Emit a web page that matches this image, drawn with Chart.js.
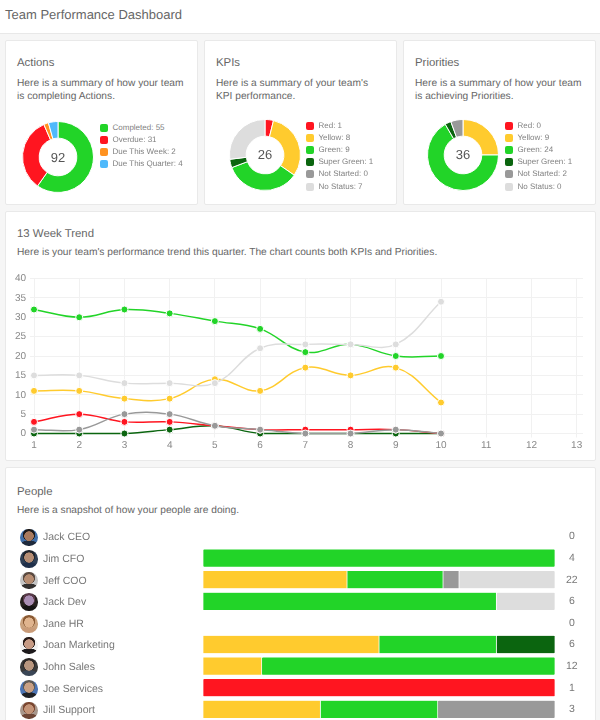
<!DOCTYPE html>
<html>
<head>
<meta charset="utf-8">
<title>Team Performance Dashboard</title>
<script src="https://cdn.jsdelivr.net/npm/chart.js@4/dist/chart.umd.min.js"></script>
<style>
  html, body { margin: 0; padding: 0; width: 600px; height: 720px; overflow: hidden; background: #f6f6f6; }
  body { position: relative; font-family: "Liberation Sans", Arial, sans-serif; color: #666; text-rendering: geometricPrecision; }
  .header { position: absolute; left: 0; top: 0; width: 600px; height: 33px; background: #fff; border-bottom: 1px solid #e8e8e8; }
  .header span { position: absolute; left: 5px; top: 6px; font-size: 13px; line-height: 17px; white-space: nowrap; }
  .card { position: absolute; background: #fff; border: 1px solid #e9e9e9; border-radius: 2px; box-sizing: border-box; }
  .txt { position: absolute; white-space: nowrap; }
  .h { font-size: 11.4px; line-height: 15px; }
  .p { font-size: 10.2px; line-height: 13.5px; color: #666; }
  canvas { position: absolute; display: block; }
  .total { position: absolute; font-size: 13px; line-height: 16px; width: 40px; text-align: center; color: #555; }
  .leg { position: absolute; font-size: 8px; line-height: 10px; color: #808080; white-space: nowrap; padding-left: 12.5px; }
  .leg i { position: absolute; left: 0; top: 1px; width: 8px; height: 8px; border-radius: 2px; }
  .avatar { position: absolute; left: 20px; width: 17.5px; height: 17.5px; border-radius: 50%; }
</style>
</head>
<body>
<div class="header"><span>Team Performance Dashboard</span></div>

<div class="card" style="left:5px;top:40px;width:193px;height:165px"></div>
<div class="card" style="left:204px;top:40px;width:193px;height:165px"></div>
<div class="card" style="left:403px;top:40px;width:193px;height:165px"></div>
<div class="card" style="left:5px;top:211px;width:591px;height:250px"></div>
<div class="card" style="left:5px;top:467px;width:591px;height:270px"></div>

<div class="txt h" style="left:17px;top:55.5px">Actions</div>
<div class="txt p" style="left:17px;top:76.5px">Here is a summary of how your team<br>is completing Actions.</div>
<div class="txt h" style="left:216px;top:55.5px">KPIs</div>
<div class="txt p" style="left:216px;top:76.5px">Here is a summary of your team's<br>KPI performance.</div>
<div class="txt h" style="left:415px;top:55.5px">Priorities</div>
<div class="txt p" style="left:415px;top:76.5px">Here is a summary of how your team<br>is achieving Priorities.</div>
<div class="txt h" style="left:17px;top:226.5px">13 Week Trend</div>
<div class="txt p" style="left:17px;top:246px">Here is your team's performance trend this quarter. The chart counts both KPIs and Priorities.</div>
<div class="txt h" style="left:17px;top:485px">People</div>
<div class="txt p" style="left:17px;top:503.5px">Here is a snapshot of how your people are doing.</div>

<canvas id="actions" width="72" height="72" style="left:22px;top:121px"></canvas>
<canvas id="kpis" width="72" height="72" style="left:229px;top:119px"></canvas>
<canvas id="priorities" width="72" height="72" style="left:427px;top:119px"></canvas>
<div class="total" style="left:38px;top:149.5px">92</div>
<div class="total" style="left:245px;top:147px">26</div>
<div class="total" style="left:443px;top:147px">36</div>

<canvas id="trend" width="600" height="185" style="left:0;top:270px"></canvas>
<canvas id="people" width="600" height="210" style="left:0;top:520px"></canvas>

<script>
const GREEN = "#22d428", RED = "#ff1520", YELLOW = "#ffcb2e", SUPER = "#0b650f",
      GREY = "#999999", LIGHT = "#dddddd", ORANGE = "#ff9220", BLUE = "#4fb9fb";

// donuts
const actionLabels = ["Completed", "Overdue", "Due This Week", "Due This Quarter"];
const actionValues = [55, 31, 2, 4];
const statusLabels = ["Red", "Yellow", "Green", "Super Green", "Not Started", "No Status"];
const kpiValues = [1, 8, 9, 1, 0, 7];
const priorityValues = [0, 9, 24, 1, 2, 0];

// trend
const weeks = [1, 2, 3, 4, 5, 6, 7, 8, 9, 10];
const trendNoStatus = [15, 15, 13, 13, 13, 22, 23, 23, 23, 34];
const trendGreen = [32, 30, 32, 31, 29, 27, 21, 23, 20, 20];
const trendYellow = [11, 11, 9, 9, 14, 11, 17, 15, 17, 8];
const trendRed = [3, 5, 3, 3, 2, 1, 1, 1, 1, 0];
const trendSuper = [0, 0, 0, 1, 2, 0, 0, 0, 0, 0];
const trendGrey = [1, 1, 5, 5, 2, 1, 0, 0, 1, 0];

// people
const people = ["Jack CEO", "Jim CFO", "Jeff COO", "Jack Dev", "Jane HR", "Joan Marketing", "John Sales", "Joe Services", "Jill Support"];
const peopleRed = [0, 0, 0, 0, 0, 0, 0, 1, 0];
const peopleYellow = [0, 0, 9, 0, 0, 3, 2, 0, 1];
const peopleGreen = [0, 4, 6, 5, 0, 2, 10, 0, 1];
const peopleSuper = [0, 0, 0, 0, 0, 1, 0, 0, 0];
const peopleGrey = [0, 0, 1, 0, 0, 0, 0, 0, 1];
const peopleLight = [0, 0, 6, 1, 0, 0, 0, 0, 0];
const peopleTotals = [0, 4, 22, 6, 0, 6, 12, 1, 3];

const statusColors = [RED, YELLOW, GREEN, SUPER, GREY, LIGHT];

// same unhinted text in the canvases as in the page
Chart.register({
  id: "textRendering",
  beforeDraw: function(chart) { chart.ctx.textRendering = "geometricPrecision"; }
});

// fixed axis width, and no extra room above and below for the tick labels
function fixWidth(width) {
  return function(scale) {
    scale.width = width;
    scale.paddingTop = 0;
    scale.paddingBottom = 0;
  };
}

function donut(id, values, colors) {
  new Chart(document.getElementById(id), {
    type: "doughnut",
    data: { labels: [], datasets: [{ data: values, backgroundColor: colors, borderColor: "#fff", borderWidth: 1 }] },
    options: {
      responsive: false,
      animation: false,
      cutout: "53%",
      plugins: { legend: { display: false }, tooltip: { enabled: false } }
    }
  });
}

function legend(left, top, labels, values, colors) {
  labels.forEach(function(label, i) {
    const row = document.createElement("div");
    row.className = "leg";
    row.style.left = left + "px";
    row.style.top = (top + i * 12.2) + "px";
    row.innerHTML = '<i style="background:' + colors[i] + '"></i>' + label + ": " + values[i];
    document.body.appendChild(row);
  });
}

donut("actions", actionValues, [GREEN, RED, ORANGE, BLUE]);
donut("kpis", kpiValues, statusColors);
donut("priorities", priorityValues, statusColors);
legend(100, 122.5, actionLabels, actionValues, [GREEN, RED, ORANGE, BLUE]);
legend(306, 120.5, statusLabels, kpiValues, statusColors);
legend(505, 120.5, statusLabels, priorityValues, statusColors);

function lineSet(label, values, color) {
  return {
    label: label,
    data: values.map(function(v, i) { return { x: weeks[i], y: v }; }),
    borderColor: color,
    backgroundColor: color,
    pointBackgroundColor: color,
    pointBorderColor: "#fff",
    pointBorderWidth: 1,
    pointRadius: 3.5,
    borderWidth: 1.5,
    tension: 0.4,
    fill: false,
    clip: false
  };
}

// first dataset is painted last
new Chart(document.getElementById("trend"), {
  type: "line",
  data: {
    datasets: [
      lineSet("Not Started", trendGrey, GREY),
      lineSet("Red", trendRed, RED),
      lineSet("Super Green", trendSuper, SUPER),
      lineSet("No Status", trendNoStatus, LIGHT),
      lineSet("Yellow", trendYellow, YELLOW),
      lineSet("Green", trendGreen, GREEN)
    ]
  },
  options: {
    responsive: false,
    animation: false,
    layout: { autoPadding: false, padding: { top: 8.5, right: 17, left: 0, bottom: 0 } },
    plugins: { legend: { display: false }, tooltip: { enabled: false } },
    scales: {
      x: {
        type: "linear",
        min: 1,
        max: 13.14,
        afterFit: function(scale) { scale.height = 21.5; },
        border: { display: false },
        grid: { color: "#f1f1f1", tickLength: 4 },
        ticks: { stepSize: 1, includeBounds: false, color: "#888", padding: 2, maxRotation: 0, font: { family: "Liberation Sans", size: 10 } }
      },
      y: {
        min: 0,
        max: 40,
        afterFit: fixWidth(34),
        border: { display: false },
        grid: { color: "#f1f1f1", tickLength: 4 },
        ticks: { stepSize: 5, color: "#888", padding: 4, font: { family: "Liberation Sans", size: 10 } }
      }
    }
  }
});

function barSet(label, values, color) {
  return {
    label: label,
    data: values.map(function(v, i) { return v ? v / peopleTotals[i] : null; }),
    backgroundColor: color,
    borderColor: "#fff",
    borderWidth: { left: 0.7, right: 0.7, top: 0, bottom: 0 },
    borderSkipped: false,
    borderRadius: 1.5,
    barThickness: 17.3,
    stack: "s"
  };
}

new Chart(document.getElementById("people"), {
  type: "bar",
  data: {
    labels: people,
    datasets: [
      barSet("Red", peopleRed, RED),
      barSet("Yellow", peopleYellow, YELLOW),
      barSet("Green", peopleGreen, GREEN),
      barSet("Super Green", peopleSuper, SUPER),
      barSet("Not Started", peopleGrey, GREY),
      barSet("No Status", peopleLight, LIGHT)
    ]
  },
  options: {
    indexAxis: "y",
    responsive: false,
    animation: false,
    layout: { autoPadding: false, padding: { top: 5.7, bottom: 9.9, left: 43, right: 0 } },
    plugins: { legend: { display: false }, tooltip: { enabled: false } },
    scales: {
      x: { display: false, stacked: true, min: 0, max: 1 },
      y: {
        stacked: true,
        afterFit: fixWidth(160),
        border: { display: false },
        grid: { display: false },
        ticks: { crossAlign: "far", color: "#777", labelOffset: 1, autoSkip: false, font: { family: "Liberation Sans", size: 10.5 } }
      },
      totals: {
        type: "category",
        position: "right",
        labels: peopleTotals.map(String),
        offset: true,
        afterFit: fixWidth(45),
        border: { display: false },
        grid: { display: false },
        ticks: { crossAlign: "center", color: "#777", padding: 3, autoSkip: false, font: { family: "Liberation Sans", size: 10.5 } }
      }
    }
  }
});

// stand-ins for the profile photos
const avatarColors = [
  ["#3f6ea8", "#1d1a1a", "#a87a5e", "#1e2a3c"],
  ["#2f3f55", "#20242b", "#b58d74", "#1f2f4a"],
  ["#c4c4c4", "#5b4a40", "#b78d72", "#33302f"],
  ["#27211f", "#5a3a4a", "#a98eb4", "#151313"],
  ["#caa27e", "#8a5a34", "#e0b48e", "#c99b78"],
  ["#f0f0f0", "#2a1c18", "#c69a84", "#1d1a1c"],
  ["#3a3a3a", "#2c2725", "#b8967e", "#3a4656"],
  ["#4c74b4", "#5f5a55", "#c9a084", "#1f2126"],
  ["#a7968b", "#7a4630", "#c49478", "#6e4636"]
];
avatarColors.forEach(function(c, i) {
  const a = document.createElement("div");
  a.className = "avatar";
  a.style.top = (528.5 + i * 21.65) + "px";
  a.style.background =
    "radial-gradient(ellipse 28% 30% at 50% 42%, " + c[2] + " 90%, transparent 100%)," +
    "radial-gradient(ellipse 36% 38% at 50% 34%, " + c[1] + " 90%, transparent 100%)," +
    "radial-gradient(ellipse 55% 34% at 50% 100%, " + c[3] + " 90%, transparent 100%)," + c[0];
  document.body.appendChild(a);
});
</script>
</body>
</html>
